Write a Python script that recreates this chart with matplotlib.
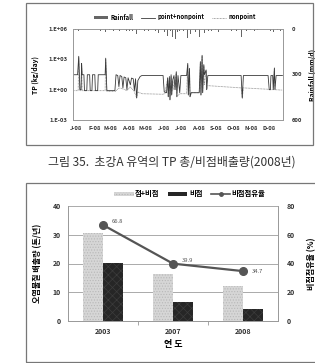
"""Two-panel TP load figure: daily load series (2008) and yearly load bars."""

import numpy as np
import pandas as pd
import matplotlib
matplotlib.use("Agg")
import matplotlib.pyplot as plt
from matplotlib.lines import Line2D
from matplotlib.patches import Patch, Rectangle

plt.rcParams["font.family"] = ["Noto Sans CJK KR", "DejaVu Sans"]
plt.rcParams["hatch.linewidth"] = 0.5

# ---- top panel: daily TP load (kg/day) and rainfall (mm/d), 2008 ----
pn_days = [0, 8, 10, 12, 14, 15, 16, 19, 20, 24, 25, 29, 30, 33, 34, 38, 39, 43, 44,
           56, 57, 59, 73, 75, 78, 80, 82, 85, 87, 89, 92, 94, 96, 100, 102, 105, 107,
           109, 111, 113, 117, 120, 157, 159, 163, 165, 166, 168, 169, 171, 172, 174,
           176, 178, 180, 181, 183, 186, 188, 198, 200, 201, 203, 204, 206, 220, 222,
           223, 225, 226, 228, 229, 232, 233, 235, 293, 295, 297, 340, 342, 344, 345,
           348, 349, 351, 352, 354, 365]
pn_load = [30, 30, 2000, 1.0, 1.0, 400, 30, 30, 0.8, 0.8, 30, 30, 0.8, 0.8, 30, 30, 0.8,
           0.8, 30, 30, 1300, 0.8, 0.8, 30, 25, 2, 25, 20, 1.5, 18, 15, 1.0, 15, 3, 14,
           12, 0.8, 12, 0.15, 8, 20, 25, 25, 0.6, 0.5, 15, 0.2, 20, 0.1, 30, 0.3, 10,
           25, 1.0, 60, 0.2, 25, 0.5, 25, 25, 400, 0.3, 130, 0.2, 0.5, 0.5, 600, 0.3,
           2500, 0.5, 300, 30, 90, 1, 25, 25, 0.15, 25, 25, 1.0, 1.0, 25, 25, 1.0, 140,
           1.0, 25, 25]

np_days = [0, 9, 10, 12, 14, 15, 16, 56, 57, 59, 75, 76, 80, 87, 94, 100, 107, 111, 113,
           120, 157, 160, 165, 166, 168, 169, 171, 172, 174, 176, 180, 181, 186, 198,
           200, 201, 203, 204, 206, 220, 222, 223, 225, 226, 228, 229, 232, 233, 235,
           260, 293, 295, 297, 340, 342, 349, 351, 352, 365]
np_load = [0.8, 0.8, 1500, 0.8, 0.8, 300, 0.8, 0.8, 1000, 0.7, 0.7, 0.9, 1.5, 1.2, 0.8,
           2, 0.6, 0.15, 0.6, 0.4, 0.35, 0.4, 12, 0.2, 15, 0.1, 20, 0.3, 8, 1.0, 45, 0.2,
           0.4, 0.4, 300, 0.3, 100, 0.2, 0.5, 0.5, 500, 0.3, 2000, 0.5, 250, 3, 70, 1,
           2.5, 2.0, 1.5, 0.15, 1.5, 1.1, 1.0, 1.0, 120, 1.0, 0.9]

rain_days = [5, 10, 19, 26, 35, 40, 48, 57, 63, 70, 75, 81, 87, 93, 98, 104, 111, 116,
             124, 131, 136, 144, 149, 155, 160, 165, 170, 173, 178, 182, 186, 193, 199,
             202, 205, 209, 214, 218, 221, 225, 229, 236, 241, 248, 253, 258, 263, 270,
             276, 285, 294, 302, 309, 316, 322, 331, 338, 344, 350, 357, 362]
rain_mm = [8, 15, 6, 10, 8, 5, 12, 20, 6, 10, 8, 15, 35, 10, 12, 15, 30, 8, 10, 15, 8,
           12, 25, 10, 20, 45, 12, 55, 65, 20, 15, 10, 60, 65, 30, 15, 20, 40, 55, 70,
           25, 15, 10, 8, 20, 10, 25, 8, 12, 10, 55, 12, 8, 10, 8, 15, 12, 10, 20, 8, 10]

month_labels = ["J-08", "F-08", "M-08", "A-08", "M-08", "J-08",
                "J-08", "A-08", "S-08", "O-08", "N-08", "D-08"]

# ---- bottom panel: yearly load (ton/yr) and nonpoint share (%) ----
years = ["2003", "2007", "2008"]
total_load = [30.5, 16.2, 12.1]
nonpoint_load = [20.3, 6.5, 4.2]
nonpoint_share = [66.8, 39.9, 34.7]

W, H = 315, 363
fig = plt.figure(figsize=(W / 100, H / 100), dpi=100)


def fx(px):
    return px / W


def fy(py):
    return 1 - py / H


# frames around the two panels
for x0, y0, x1, y1 in [(26, 3, 313, 145), (26, 183, 318, 362)]:
    fig.patches.append(Rectangle((fx(x0), fy(y1)), fx(x1 - x0), (y1 - y0) / H,
                                 transform=fig.transFigure, fill=False,
                                 edgecolor="#777777", linewidth=0.9))

# ---------------- top panel ----------------
base = pd.Timestamp("2008-01-01")


def to_dates(days):
    return base + pd.to_timedelta(np.asarray(days), unit="D")


ax1 = fig.add_axes([fx(73), fy(120), fx(210), 91 / H])
ax1.plot(to_dates(np_days), np_load, color="#8c8c8c", lw=0.6, ls=(0, (1, 0.8)))
ax1.plot(to_dates(pn_days), pn_load, color="#3a3a3a", lw=0.6)
ax1.set_yscale("log")
ax1.set_ylim(1e-3, 1e6)
ax1.set_yticks([1e-3, 1e0, 1e3, 1e6])
ax1.set_yticklabels(["1.E-03", "1.E+00", "1.E+03", "1.E+06"])
ax1.minorticks_off()
ax1.set_xlim(base, base + pd.Timedelta(days=366))
month_starts = pd.date_range("2008-01-01", periods=12, freq="MS")
ax1.set_xticks(month_starts + pd.Timedelta(days=6))
ax1.set_xticklabels(month_labels)
ax1.tick_params(length=0, labelsize=4.2, pad=4, colors="#333333")
for lab in ax1.get_xticklabels() + ax1.get_yticklabels():
    lab.set_fontweight("bold")
ax1.set_ylabel("TP (kg/day)", fontsize=4.8, fontweight="bold")
ax1.yaxis.set_label_coords(-0.16, 0.5)

ax1r = ax1.twinx()
ax1r.bar(to_dates(rain_days), rain_mm, width=1.4, color="#666666")
ax1r.set_ylim(600, 0)
ax1r.set_yticks([0, 300, 600])
ax1r.tick_params(length=0, labelsize=4.2, pad=6, colors="#333333")
for lab in ax1r.get_yticklabels():
    lab.set_fontweight("bold")
ax1r.set_ylabel("Rainfall (mm/d)", fontsize=4.8, fontweight="bold", rotation=90)
ax1r.yaxis.set_label_coords(1.12, 0.5)
for a in (ax1, ax1r):
    for s in a.spines.values():
        s.set_color("#999999")
        s.set_linewidth(0.6)

top_handles = [Patch(facecolor="#666666"),
               Line2D([], [], color="#3a3a3a", lw=0.6),
               Line2D([], [], color="#8c8c8c", lw=0.6, ls=(0, (1, 0.8)))]
fig.legend(top_handles, ["Rainfall", "point+nonpoint", "nonpoint"],
           loc="center", bbox_to_anchor=(fx(175), fy(17)), ncol=3, frameon=False,
           prop={"size": 4.3, "weight": "bold"}, handlelength=2.4, handleheight=0.5,
           columnspacing=1.2, handletextpad=0.4)

fig.text(fx(172), fy(162), "그림 35.  초강A 유역의 TP 총/비점배출량(2008년)",
         ha="center", va="center", fontsize=8.6, color="#333333")

# ---------------- bottom panel ----------------
ax2 = fig.add_axes([fx(68), fy(321), fx(210), 115 / H])
x = np.arange(len(years))
bw = 0.286
ax2.bar(x - bw / 2, total_load, width=bw, color="#d6d6d6", hatch="......",
        edgecolor="#b8b8b8", linewidth=0, zorder=2)
ax2.bar(x + bw / 2, nonpoint_load, width=bw, color="#262626", hatch="xxxx",
        edgecolor="#3c3c3c", linewidth=0, zorder=2)
ax2.set_xlim(-0.5, 2.5)
ax2.set_ylim(0, 40)
ax2.set_yticks([0, 10, 20, 30, 40])
ax2.set_xticks(x)
ax2.set_xticklabels(years)
ax2.set_xticks([0.5, 1.5], minor=True)
ax2.tick_params(axis="x", which="minor", length=3, color="#999999")
ax2.tick_params(which="major", length=0, labelsize=5, pad=5, colors="#333333")
for lab in ax2.get_xticklabels() + ax2.get_yticklabels():
    lab.set_fontweight("bold")
ax2.yaxis.grid(True, color="#aaaaaa", lw=0.7, zorder=0)
ax2.set_axisbelow(True)
ax2.set_ylabel("오염물질 배출량 (톤/년)", fontsize=5.8, fontweight="bold")
ax2.yaxis.set_label_coords(-0.125, 0.5)
ax2.set_xlabel("연 도", fontsize=6.5, fontweight="bold", labelpad=4)

ax2r = ax2.twinx()
ax2r.plot(x, nonpoint_share, color="#555555", lw=1.6, marker="o", markersize=5.5,
          zorder=3)
for xi, v in zip(x, nonpoint_share):
    dx, dy = (0.12, 2.5) if xi < 2 else (0.13, 0)
    ax2r.text(xi + dx, v + dy, f"{v}", fontsize=4.2, color="#555555", va="center")
ax2r.set_ylim(0, 80)
ax2r.set_yticks([0, 20, 40, 60, 80])
ax2r.tick_params(length=0, labelsize=5, pad=6, colors="#333333")
for lab in ax2r.get_yticklabels():
    lab.set_fontweight("bold")
ax2r.set_ylabel("비점점유율 (%)", fontsize=5.8, fontweight="bold", rotation=90)
ax2r.yaxis.set_label_coords(1.14, 0.5)
for a in (ax2, ax2r):
    for s in a.spines.values():
        s.set_color("#999999")
        s.set_linewidth(0.6)
    a.spines["top"].set_visible(False)

bot_handles = [Patch(facecolor="#d6d6d6", hatch="......", edgecolor="#b8b8b8", lw=0),
               Patch(facecolor="#262626"),
               Line2D([], [], color="#555555", lw=1.2, marker="o", markersize=2.5)]
fig.legend(bot_handles, ["점+비점", "비점", "비점점유율"], loc="center",
           bbox_to_anchor=(fx(190), fy(194)), ncol=3, frameon=False,
           prop={"size": 5.3, "weight": "bold"}, handlelength=2.6, handleheight=0.6,
           columnspacing=1.2, handletextpad=0.2)

fig.savefig("out.png", dpi=100)
